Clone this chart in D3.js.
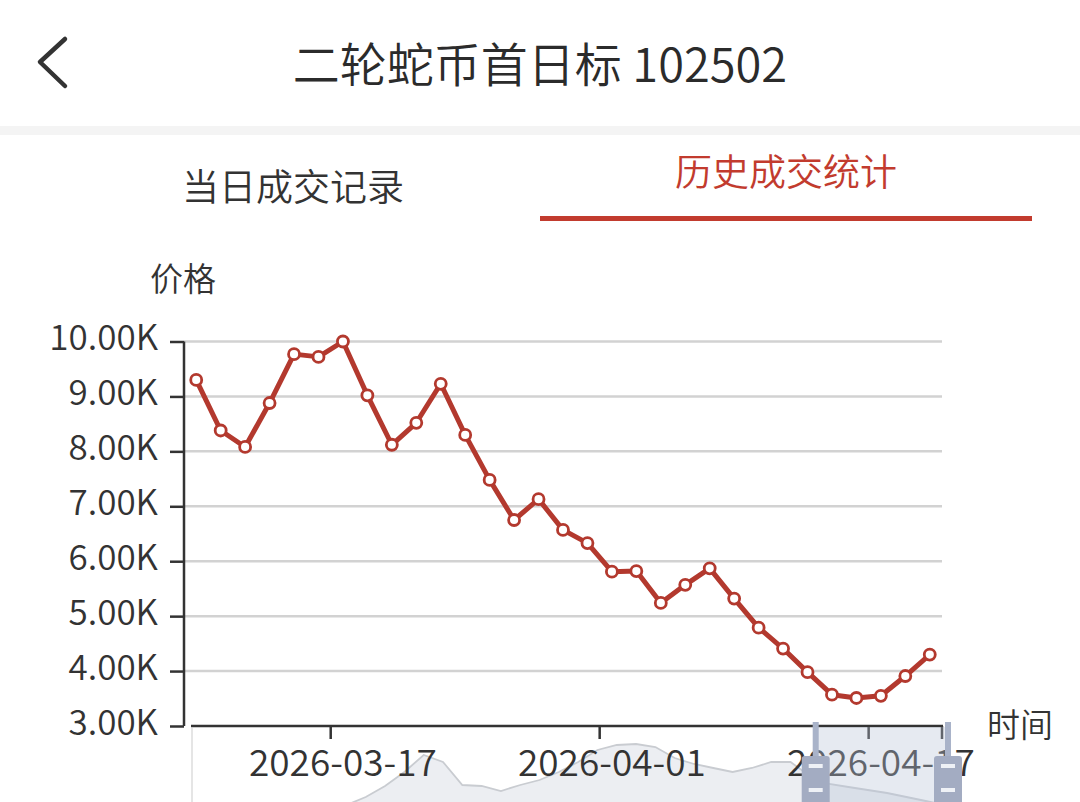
<!DOCTYPE html>
<html>
<head>
<meta charset="utf-8">
<script src="https://cdn.jsdelivr.net/npm/d3@7"></script>
<style>
  html, body { margin: 0; padding: 0; background: #fff; }
  svg { display: block; font-family: "Noto Sans CJK SC", "Noto Sans", sans-serif; font-weight: 350; }
</style>
</head>
<body>
<div id="chart"></div>
<script>
// trading days shown in the window
var dates = ["2026-03-09", "2026-03-10", "2026-03-11", "2026-03-12", "2026-03-13",
  "2026-03-16", "2026-03-17", "2026-03-18", "2026-03-19", "2026-03-20",
  "2026-03-23", "2026-03-24", "2026-03-25", "2026-03-26", "2026-03-27",
  "2026-03-30", "2026-03-31", "2026-04-01", "2026-04-02", "2026-04-03",
  "2026-04-07", "2026-04-08", "2026-04-09", "2026-04-10", "2026-04-13",
  "2026-04-14", "2026-04-15", "2026-04-16", "2026-04-17", "2026-04-20",
  "2026-04-21"]

// price in K
var prices = [9.30, 8.38, 8.08, 8.88, 9.77, 9.72, 10.0, 9.02, 8.12, 8.52,
  9.23, 8.30, 7.48, 6.75, 7.13, 6.57, 6.33, 5.81, 5.82, 5.24,
  5.57, 5.87, 5.32, 4.79, 4.41, 3.98, 3.57, 3.51, 3.55, 3.91,
  4.30]

var yTicks = [3, 4, 5, 6, 7, 8, 9, 10]
var xTickLabels = ["2026-03-17", "2026-04-01", "2026-04-17"]

// data shadow of the zoom slider (relative height, full history)
var shadow = [10, 15, 20, 24, 28, 32, 36, 40, 45, 53, 64, 78, 95, 88, 65, 64, 59, 65, 70, 78,
  88, 100, 105, 106, 103, 92, 86, 82, 78, 82, 88, 88, 74, 66, 63, 60, 57, 53, 49, 45]
var zoomWindow = [0.825, 1.0]

var red = "#b3392e"
var W = 1080, H = 802

var svg = d3.select("#chart")
  .append("svg")
  .attr("width", W)
  .attr("height", H)

// header
svg.append("path")
  .attr("d", "M65,39 L40,62 L65,86")
  .attr("fill", "none")
  .attr("stroke", "#333")
  .attr("stroke-width", 4.5)
  .attr("stroke-linecap", "round")
  .attr("stroke-linejoin", "round")

svg.append("text")
  .attr("x", 540)
  .attr("y", 61)
  .attr("text-anchor", "middle")
  .attr("dominant-baseline", "central")
  .style("font-size", "47px")
  .attr("fill", "#2b2b2b")
  .text("二轮蛇币首日标 102502")

svg.append("rect")
  .attr("x", 0).attr("y", 126)
  .attr("width", W).attr("height", 9)
  .attr("fill", "#f4f4f4")

// tabs
svg.append("text")
  .attr("x", 293)
  .attr("y", 185)
  .attr("text-anchor", "middle")
  .attr("dominant-baseline", "central")
  .style("font-size", "37px")
  .attr("fill", "#333")
  .text("当日成交记录")

svg.append("text")
  .attr("x", 786)
  .attr("y", 170)
  .attr("text-anchor", "middle")
  .attr("dominant-baseline", "central")
  .style("font-size", "37px")
  .attr("fill", "#c23b2e")
  .text("历史成交统计")

svg.append("rect")
  .attr("x", 540).attr("y", 216)
  .attr("width", 492).attr("height", 5)
  .attr("fill", "#c23b2e")

// scales
var x = d3.scaleBand()
  .domain(dates)
  .range([184, 942])
  .paddingInner(0)
  .paddingOuter(0)

var y = d3.scaleLinear()
  .domain([3, 10])
  .range([726, 341.5])

var cx = function (d) { return x(d) + x.bandwidth() / 2 }

// grid lines
svg.append("g")
  .selectAll("line")
  .data(yTicks.slice(1))
  .enter()
  .append("line")
  .attr("x1", 184).attr("x2", 942)
  .attr("y1", function (d) { return y(d) })
  .attr("y2", function (d) { return y(d) })
  .attr("stroke", "#d2d2d2")
  .attr("stroke-width", 2.5)

// zoom slider data shadow (sits under the axis labels)
var sx = d3.scaleLinear().domain([0, shadow.length - 1]).range([192, 945])
var sy = d3.scaleLinear().domain([0, d3.max(shadow)]).range([850, 744])

var shadowArea = d3.area()
  .x(function (d, i) { return sx(i) })
  .y0(860)
  .y1(function (d) { return sy(d) })

svg.append("path")
  .datum(shadow)
  .attr("d", shadowArea)
  .attr("fill", "#eceef2")

svg.append("path")
  .datum(shadow)
  .attr("d", d3.line().x(function (d, i) { return sx(i) }).y(function (d) { return sy(d) }))
  .attr("fill", "none")
  .attr("stroke", "#c9ccd1")
  .attr("stroke-width", 1.8)

svg.append("line")
  .attr("x1", 192).attr("x2", 192)
  .attr("y1", 728).attr("y2", H)
  .attr("stroke", "#dcdcdc")
  .attr("stroke-width", 1.5)

// y axis
var yAxis = svg.append("g")
  .attr("transform", "translate(184,0)")
  .call(d3.axisLeft(y)
    .tickValues(yTicks)
    .tickSize(14)
    .tickPadding(12)
    .tickFormat(function (d) { return d3.format(".2f")(d) + "K" }))
yAxis.selectAll("path, line")
  .attr("stroke", "#333")
  .attr("stroke-width", 2.5)
yAxis.select(".domain").attr("d", "M0," + y(10) + "V" + y(3))
yAxis.selectAll("text")
  .style("font-size", "35px")
  .style("font-family", "'Noto Sans CJK SC', 'Noto Sans', sans-serif")
  .style("font-weight", 350)
  .attr("fill", "#333")
  .attr("dy", "0.32em")
  .attr("y", -3)

svg.append("text")
  .attr("x", 183)
  .attr("y", 277)
  .attr("text-anchor", "middle")
  .attr("dominant-baseline", "central")
  .style("font-size", "33px")
  .attr("fill", "#333")
  .text("价格")

// x axis
svg.append("line")
  .attr("x1", 191).attr("x2", 943)
  .attr("y1", 726).attr("y2", 726)
  .attr("stroke", "#333")
  .attr("stroke-width", 2.5)

var tickPos = xTickLabels.map(function (d) { return x(d) }).concat([x.range()[1]])
svg.append("g")
  .selectAll("line")
  .data(tickPos)
  .enter()
  .append("line")
  .attr("x1", function (d) { return d }).attr("x2", function (d) { return d })
  .attr("y1", 726).attr("y2", 739)
  .attr("stroke", "#333")
  .attr("stroke-width", 2.5)

svg.append("g")
  .selectAll("text")
  .data(xTickLabels)
  .enter()
  .append("text")
  .attr("x", function (d) { return cx(d) })
  .attr("y", 776)
  .attr("text-anchor", "middle")
  .style("font-size", "37px")
  .attr("fill", "#333")
  .text(function (d) { return d })

svg.append("text")
  .attr("x", 987)
  .attr("y", 723)
  .attr("dominant-baseline", "central")
  .style("font-size", "33px")
  .attr("fill", "#333")
  .text("时间")

// price line
var line = d3.line()
  .x(function (d, i) { return cx(dates[i]) })
  .y(function (d) { return y(d) })

svg.append("path")
  .datum(prices)
  .attr("d", line)
  .attr("fill", "none")
  .attr("stroke", red)
  .attr("stroke-width", 5)
  .attr("stroke-linejoin", "round")

svg.append("g")
  .selectAll("circle")
  .data(prices)
  .enter()
  .append("circle")
  .attr("cx", function (d, i) { return cx(dates[i]) })
  .attr("cy", function (d) { return y(d) })
  .attr("r", 5.5)
  .attr("fill", "#fff")
  .attr("stroke", red)
  .attr("stroke-width", 2.8)

// zoom slider window and handles (cut off at the bottom of the page)
var wx0 = 192 + zoomWindow[0] * (948 - 192)
var wx1 = 192 + zoomWindow[1] * (948 - 192)

svg.append("rect")
  .attr("x", wx0).attr("y", 727)
  .attr("width", wx1 - wx0).attr("height", 100)
  .attr("fill", "#b7c2d8")
  .attr("opacity", 0.35)

var handles = svg.append("g")
  .selectAll("g")
  .data([wx0, wx1])
  .enter()
  .append("g")
  .attr("transform", function (d) { return "translate(" + d + ",0)" })

handles.append("rect")
  .attr("x", -3).attr("y", 722)
  .attr("width", 6).attr("height", 40)
  .attr("fill", "#a9b3c9")
handles.append("rect")
  .attr("x", -14).attr("y", 756)
  .attr("width", 28).attr("height", 60)
  .attr("rx", 3)
  .attr("fill", "#a3acc2")
handles.append("rect")
  .attr("x", -7).attr("y", 764)
  .attr("width", 14).attr("height", 4)
  .attr("fill", "#eef1f6")
handles.append("rect")
  .attr("x", -7).attr("y", 788)
  .attr("width", 14).attr("height", 4)
  .attr("fill", "#eef1f6")
</script>
</body>
</html>
